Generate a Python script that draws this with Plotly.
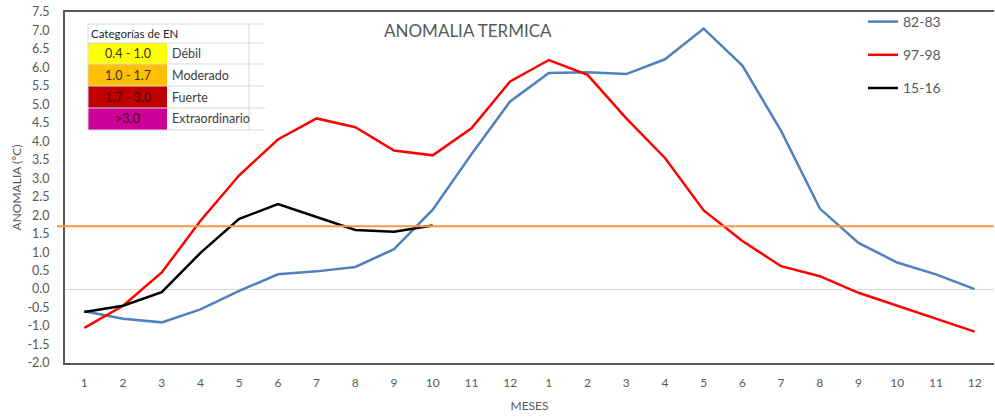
import plotly.graph_objects as go

months = [1, 2, 3, 4, 5, 6, 7, 8, 9, 10, 11, 12, 1, 2, 3, 4, 5, 6, 7, 8, 9, 10, 11, 12]
s_8283 = [-0.6, -0.8, -0.9, -0.55, -0.05, 0.4, 0.48, 0.6, 1.08, 2.15, 3.65, 5.08,
          5.85, 5.87, 5.82, 6.22, 7.05, 6.05, 4.28, 2.18, 1.25, 0.72, 0.4, 0.0]
s_9798 = [-1.05, -0.45, 0.45, 1.85, 3.08, 4.05, 4.62, 4.38, 3.75, 3.62, 4.35, 5.62,
          6.2, 5.8, 4.62, 3.55, 2.13, 1.3, 0.62, 0.35, -0.1, -0.45, -0.8, -1.15]
s_1516 = [-0.62, -0.45, -0.08, 0.98, 1.9, 2.3, 1.95, 1.6, 1.55, 1.72]
threshold = 1.7
y_ticks = [-2.0, -1.5, -1.0, -0.5, 0.0, 0.5, 1.0, 1.5, 2.0, 2.5, 3.0, 3.5,
           4.0, 4.5, 5.0, 5.5, 6.0, 6.5, 7.0, 7.5]

series_names = ["82-83", "97-98", "15-16"]
series_colors = ["#4F81BD", "#FF0000", "#000000"]

cat_ranges = ["0.4 - 1.0", "1.0 - 1.7", "1.7 - 3.0", ">3.0"]
cat_names = ["Débil", "Moderado", "Fuerte", "Extraordinario"]
cat_colors = ["#FFFF00", "#FFC000", "#C00000", "#CC0099"]

x_pos = list(range(len(months)))
FONT = "Lato, Liberation Sans, sans-serif"
GRAY = "#595959"

fig = go.Figure()
for name, vals, col in zip(series_names, [s_8283, s_9798, s_1516], series_colors):
    fig.add_trace(go.Scatter(x=x_pos[:len(vals)], y=vals, mode="lines", name=name,
                             legendgroup=name,
                             line=dict(color=col, width=2.5)))

W, H = 995, 418
ml, mr, mt, mb = 65, 1, 12, 55
pw, ph = W - ml - mr, H - mt - mb

def px(x):
    return (x - ml) / pw

def py(y):
    return (H - mb - y) / ph

shapes = []
annotations = []
# threshold line
shapes.append(dict(type="line", xref="paper", yref="y", x0=px(57), x1=1.0,
                   y0=threshold, y1=threshold, line=dict(color="#F79646", width=2)))

# table
tx0, tx1, tcol, tvl = 88, 265, 167, 249
row_y = [24, 43, 64, 86, 108, 130]
for i, c in enumerate(cat_colors):
    shapes.append(dict(type="rect", xref="paper", yref="paper",
                       x0=px(tx0), x1=px(tcol), y0=py(row_y[i + 2]), y1=py(row_y[i + 1]),
                       fillcolor=c, line=dict(width=0), layer="above"))
for yy in row_y:
    shapes.append(dict(type="line", xref="paper", yref="paper", x0=px(tx0), x1=px(tx1),
                       y0=py(yy), y1=py(yy), line=dict(color="#D9D9D9", width=1)))
for xx in [tx0, tvl]:
    shapes.append(dict(type="line", xref="paper", yref="paper", x0=px(xx), x1=px(xx),
                       y0=py(row_y[0]), y1=py(row_y[-1]), line=dict(color="#D9D9D9", width=1)))

annotations.append(dict(text="Categorías de EN", xref="paper", yref="paper",
                        x=px(tx0 + 1), y=py((row_y[0] + row_y[1]) / 2), xanchor="left",
                        yanchor="middle", showarrow=False,
                        font=dict(family=FONT, size=11.5, color="#262626")))
for i, (r, n) in enumerate(zip(cat_ranges, cat_names)):
    yc = py((row_y[i + 1] + row_y[i + 2]) / 2)
    annotations.append(dict(text=r, xref="paper", yref="paper", x=px((tx0 + tcol) / 2), y=yc,
                            xanchor="center", yanchor="middle", showarrow=False,
                            font=dict(family=FONT, size=12.5,
                                      color="#3a1010" if i >= 2 else "#333333")))
    annotations.append(dict(text=n, xref="paper", yref="paper", x=px(tcol + 3), y=yc,
                            xanchor="left", yanchor="middle", showarrow=False,
                            font=dict(family=FONT, size=12.5, color="#404040")))

annotations.append(dict(text="ANOMALIA TERMICA", xref="paper", yref="paper",
                        x=px(468), y=py(31), xanchor="center", yanchor="middle",
                        showarrow=False, font=dict(family=FONT, size=17, color=GRAY)))

fig.update_layout(
    width=W, height=H,
    margin=dict(l=ml, r=mr, t=mt, b=mb),
    paper_bgcolor="white", plot_bgcolor="white",
    font=dict(family=FONT, size=12, color=GRAY),
    shapes=shapes, annotations=annotations,
    showlegend=True,
    legend=dict(x=px(863), y=py(6), xanchor="left", yanchor="top",
                bgcolor="rgba(0,0,0,0)", tracegroupgap=12,
                font=dict(family=FONT, size=14, color=GRAY)),
    xaxis=dict(range=[-0.5, len(months) - 0.5], tickmode="array", tickvals=x_pos,
               ticktext=[str(m) for m in months], showgrid=False, zeroline=False,
               showline=True, linecolor="#595959", linewidth=2, mirror=True,
               ticks="", ticklabelstandoff=8,
               title=dict(text="MESES", font=dict(family=FONT, size=12, color=GRAY), standoff=12),
               tickfont=dict(family=FONT, size=12, color=GRAY)),
    yaxis=dict(range=[-2.0, 7.5], tickmode="array", tickvals=y_ticks,
               ticktext=[f"{v:.1f}" for v in y_ticks], showgrid=False,
               zeroline=True, zerolinecolor="#D9D9D9", zerolinewidth=1,
               showline=True, linecolor="#595959", linewidth=2,
               ticks="outside", ticklen=11, tickcolor="rgba(0,0,0,0)",
               title=dict(text="ANOMALIA (°C)", font=dict(family=FONT, size=12, color=GRAY), standoff=3),
               tickfont=dict(family=FONT, size=12.5, color=GRAY)),
)

fig.write_html("out.html")
